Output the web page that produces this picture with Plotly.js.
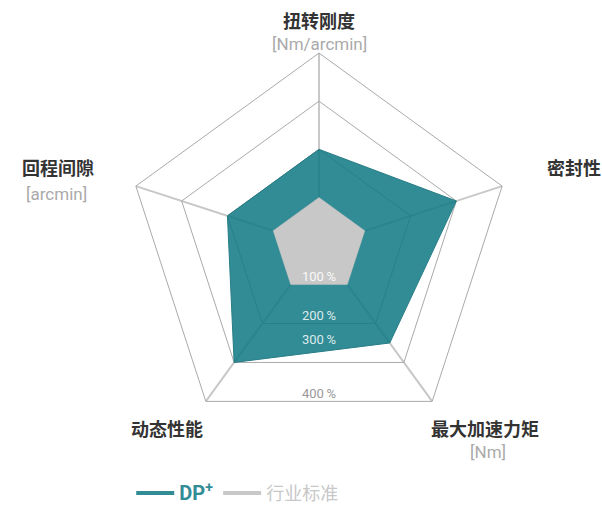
<!DOCTYPE html>
<html>
<head>
<meta charset="utf-8">
<script src="https://cdn.plot.ly/plotly-3.0.1.min.js"></script>
<style>html,body{margin:0;padding:0;background:#fff;}#chart{width:602px;height:512px;}</style>
</head>
<body>
<div id="chart"></div>
<script>
// ---- data ----
const categories = ['扭转刚度', '密封性', '最大加速力矩', '动态性能', '回程间隙'];
const units = ['[Nm/arcmin]', '', '[Nm]', '', '[arcmin]'];
const dpPlus = [200, 300, 250, 300, 200];
const industry = [100, 100, 100, 100, 100];
const tickVals = [100, 200, 300, 400];
const tickLabels = ['100\u2009%', '200\u2009%', '300\u2009%', '400\u2009%'];
const seriesNames = ['DP<sup>+</sup>', '行业标准'];

// ---- styles ----
const TEAL = 'rgb(50,140,150)';
const TEAL_FILL = 'rgba(14,120,131,0.85)';
const GRAY = 'rgb(200,200,200)';
const FONT = "Roboto, 'Noto Sans CJK SC', sans-serif";
const tickNudge = [0, 0, -40, 0];          // label offset along the bottom direction (radial units)
const tickColors = ['rgba(255,255,255,0.92)', 'rgba(235,245,245,0.92)', 'rgba(235,245,245,0.92)', '#999'];

function closed(arr) { return arr.concat([arr[0]]); }

const W = 602, H = 512;
const cx = 319, cy = 250, R = 196;
const domain = { x: [(cx - R) / W, (cx + R) / W], y: [1 - (cy + R) / H, 1 - (cy - R) / H] };
const COS36 = Math.cos(36 * Math.PI / 180);

const traces = [
  {
    type: 'scatterpolar', subplot: 'polar',
    r: closed(dpPlus), theta: closed(categories),
    mode: 'lines', fill: 'toself', fillcolor: TEAL_FILL,
    line: { color: 'rgb(40,125,135)', width: 1 },
    showlegend: false, hoverinfo: 'skip'
  },
  {
    type: 'scatterpolar', subplot: 'polar',
    r: closed(industry), theta: closed(categories),
    mode: 'lines', fill: 'toself', fillcolor: GRAY,
    line: { color: GRAY, width: 0.5 },
    showlegend: false, hoverinfo: 'skip'
  },
  // legend entries (single point, draws no visible line)
  {
    type: 'scatterpolar', subplot: 'polar', r: [dpPlus[0]], theta: [categories[0]], mode: 'lines',
    name: '<span style="color:' + TEAL + ';font-size:20px"><b>' + seriesNames[0] + '</b></span>',
    line: { color: TEAL, width: 4 }, showlegend: true, hoverinfo: 'skip'
  },
  {
    type: 'scatterpolar', subplot: 'polar', r: [industry[0]], theta: [categories[0]], mode: 'lines',
    name: '<span style="color:' + GRAY + '">' + seriesNames[1] + '</span>',
    line: { color: GRAY, width: 4 }, showlegend: true, hoverinfo: 'skip'
  },
  // radial tick labels placed on the bottom edge midpoints (angle 180 in polar2)
  {
    type: 'scatterpolar', subplot: 'polar2',
    r: tickVals.map((v, i) => (v + tickNudge[i]) * COS36),
    theta: tickVals.map(() => 180),
    mode: 'text', text: tickLabels, textposition: 'top center',
    textfont: { family: FONT, size: 13, color: tickColors },
    cliponaxis: false, showlegend: false, hoverinfo: 'skip'
  }
];

const annotations = [];
const labelPos = [
  { x: 319, y: 22, ux: 319, uy: 45 },
  { x: 574, y: 172 },
  { x: 485, y: 437, ux: 488, uy: 460 },
  { x: 167, y: 437 },
  { x: 58, y: 172, ux: 56, uy: 197 }
];
categories.forEach((c, i) => {
  const p = labelPos[i];
  annotations.push({
    xref: 'paper', yref: 'paper', x: p.x / W, y: 1 - p.y / H,
    xanchor: 'center', yanchor: 'middle', showarrow: false,
    text: '<b>' + c + '</b>', font: { family: FONT, size: 18, color: '#333' }
  });
  if (units[i]) {
    annotations.push({
      xref: 'paper', yref: 'paper', x: p.ux / W, y: 1 - p.uy / H,
      xanchor: 'center', yanchor: 'middle', showarrow: false,
      text: units[i], font: { family: FONT, size: 17, color: '#aaa' }
    });
  }
});

const layout = {
  width: W, height: H,
  margin: { l: 0, r: 0, t: 0, b: 0 },
  paper_bgcolor: '#fff',
  font: { family: FONT },
  showlegend: true,
  legend: {
    orientation: 'h', x: 0.218, y: 1 - 502 / H, xanchor: 'left', yanchor: 'middle',
    itemwidth: 38,
    font: { family: FONT, size: 18, color: '#888' }, bgcolor: 'rgba(0,0,0,0)'
  },
  polar: {
    domain: domain,
    bgcolor: '#fff',
    gridshape: 'linear',
    radialaxis: {
      range: [0, 400], tickvals: tickVals, showticklabels: false, ticks: '',
      showline: false, gridcolor: '#aaa', gridwidth: 1
    },
    angularaxis: {
      type: 'category', categoryarray: categories, rotation: 90, direction: 'clockwise',
      showticklabels: false, ticks: '', showline: true, linecolor: '#aaa', linewidth: 1,
      gridcolor: '#c8c8c8', gridwidth: 2
    }
  },
  polar2: {
    domain: domain,
    bgcolor: 'rgba(0,0,0,0)',
    radialaxis: { range: [0, 400], visible: false },
    angularaxis: { rotation: 90, direction: 'clockwise', visible: false }
  },
  annotations: annotations
};

Plotly.newPlot('chart', traces, layout, { displayModeBar: false, staticPlot: true });
</script>
</body>
</html>
